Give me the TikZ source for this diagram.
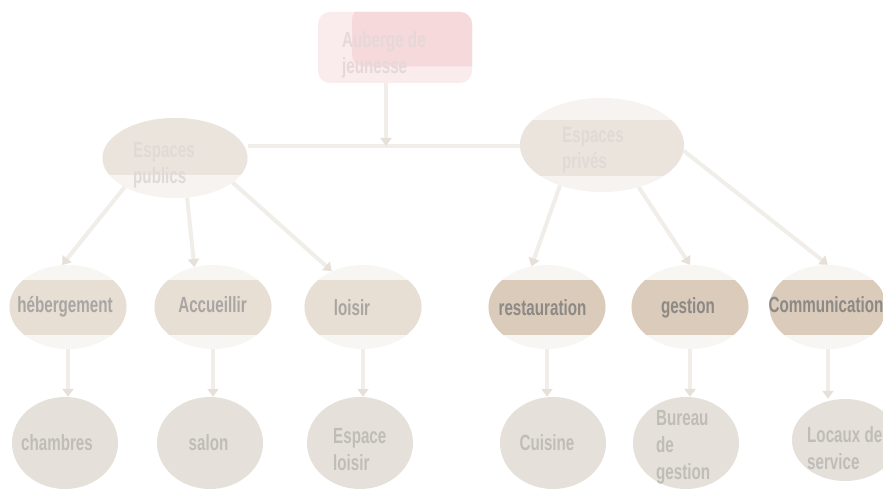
\documentclass[tikz,border=0pt]{standalone}
\usepackage{fontspec}
\newfontfamily\agency{Liberation Sans}[FakeStretch=0.69]
\usetikzlibrary{shapes.geometric,arrows.meta}
\definecolor{pinkband}{HTML}{F5D9DB}
\definecolor{pinkbase}{HTML}{FAEBEC}
\definecolor{topband}{HTML}{EBE4DD}
\definecolor{topbase}{HTML}{F6F3F0}
\definecolor{lband}{HTML}{E7DED4}
\definecolor{rband}{HTML}{DACBBA}
\definecolor{lvlbase}{HTML}{F8F6F3}
\definecolor{leaffill}{HTML}{E5E1DA}
\definecolor{linecol}{HTML}{F1EEEA}
\definecolor{headcol}{HTML}{E6E0D9}
\definecolor{txtfaint}{HTML}{E0DAD6}
\definecolor{txtpink}{HTML}{E6D8D8}
\definecolor{txtleft}{HTML}{A9A5A2}
\definecolor{txtright}{HTML}{8D8985}
\definecolor{txtleaf}{HTML}{C0BCB8}
\tikzset{
  bandfill/.style n args={3}{path picture={\fill[#1] ([xshift=-150pt,yshift=#2]path picture bounding box.center) rectangle ([xshift=150pt,yshift=#3]path picture bounding box.center);}},
  txt/.style={font=\agency\bfseries\fontsize{22}{26}\selectfont, align=left, inner sep=0pt},
  leaftxt/.style={txt, font=\agency\bfseries\fontsize{22}{27}\selectfont, text=txtleaf},
  topbox/.style={rectangle, rounded corners=12pt, fill=pinkbase, minimum width=154pt, minimum height=71pt, inner sep=0pt,
    path picture={\fill[pinkband] ([xshift=-43pt,yshift=40pt]path picture bounding box.center) rectangle ([xshift=100pt,yshift=-19pt]path picture bounding box.center);}},
  mainell/.style={ellipse, fill=topbase, inner sep=0pt},
  lvl/.style={ellipse, fill=lvlbase, minimum width=117pt, minimum height=84pt, inner sep=0pt},
  lvlL/.style={lvl, bandfill={lband}{27pt}{-28pt}},
  lvlR/.style={lvl, bandfill={rband}{27pt}{-28pt}},
  leaf/.style={ellipse, fill=leaffill, minimum width=106pt, minimum height=92pt, inner sep=0pt},
  conn/.style={draw=linecol, line width=4pt, -{Triangle[width=11pt,length=8pt,color=headcol]}},
  plainline/.style={draw=linecol, line width=4pt}
}
\begin{document}
\begin{tikzpicture}[x=1pt,y=-1pt]
\fill[white] (0,0) rectangle (883,489);
\useasboundingbox (0,0) rectangle (883,489);
% top box
\node[topbox] (top) at (395,47.5) {};
\node[txt, text=txtpink, anchor=west] (topT) at (342,55) {Auberge de\\jeunesse};
% main ellipses
\node[mainell, minimum width=145pt, minimum height=80pt, bandfill={topband}{40pt}{-17pt}] (pub) at (175,158) {};
\node[txt, text=txtfaint, anchor=west] (pubT) at (133,165) {Espaces\\publics};
\node[mainell, minimum width=164pt, minimum height=94pt, bandfill={topband}{25pt}{-31pt}] (pri) at (602,145) {};
\node[txt, text=txtfaint, anchor=west] (priT) at (562,150) {Espaces\\privés};
% level 2
\node[lvlL] (heb) at (68,307) {};
\node[lvlL] (acc) at (213,307) {};
\node[lvlL] (loi) at (363,307) {};
\node[lvlR] (res) at (547,307) {};
\node[lvlR] (ges) at (690,307) {};
\node[lvlR] (com) at (828,307) {};
\node[txt, text=txtleft] (hebT) at (65,307) {hébergement};
\node[txt, text=txtleft] (accT) at (212.5,305) {Accueillir};
\node[txt, text=txtleft] (loiT) at (352,308) {loisir};
\node[txt, text=txtright] (resT) at (542.5,308) {restauration};
\node[txt, text=txtright] (gesT) at (688,308) {gestion};
\node[txt, text=txtright] (comT) at (826,305) {Communication};
% level 3
\node[leaf] (cha) at (65,443) {};
\node[leaf] (sal) at (210,443) {};
\node[leaf] (esl) at (360,443) {};
\node[leaf] (cui) at (553,443) {};
\node[leaf] (bur) at (686,443) {};
\node[leaf, minimum height=82pt] (loc) at (845,440) {};
\node[leaftxt] (chaT) at (57,443) {chambres};
\node[leaftxt] (salT) at (208.5,443) {salon};
\node[leaftxt, anchor=west] (eslT) at (333,450) {Espace\\loisir};
\node[leaftxt] (cuiT) at (547,443) {Cuisine};
\node[leaftxt, anchor=west] (burT) at (656,447) {Bureau\\de\\gestion};
\node[leaftxt, anchor=west] (locT) at (807,448) {Locaux de\\service};
% connectors
\coordinate (mid) at (386,146);
\draw[plainline] (pub.east |- mid) -- (pri.west |- mid);
\draw[conn] (top.south -| mid) -- (mid);
\draw[conn] (pub.210) -- (heb.98);
\draw[conn] (pub.287) -- (acc.115);
\draw[conn] (pub.337) -- (loi.131);
\draw[conn] (pri.224) -- (res.111);
\draw[conn] (pri.311) -- (ges.north);
\draw[conn] (pri.356) -- (com.north);
\draw[conn] (heb.south) -- (cha.north -| heb.south);
\draw[conn] (acc.south) -- (sal.north -| acc.south);
\draw[conn] (loi.south) -- (esl.north -| loi.south);
\draw[conn] (res.south) -- (cui.north -| res.south);
\draw[conn] (ges.south) -- (bur.north -| ges.south);
\draw[conn] (com.south) -- (loc.north -| com.south);
\end{tikzpicture}
\end{document}
